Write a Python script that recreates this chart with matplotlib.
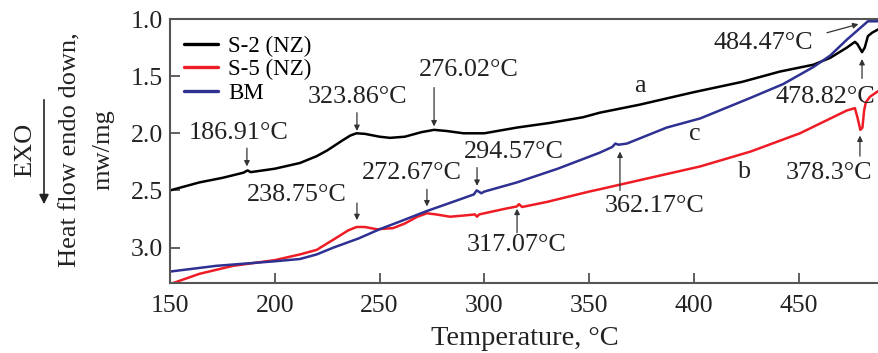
import matplotlib
matplotlib.use("Agg")
import matplotlib.pyplot as plt

# ---- data ----
s2_t = [150, 164, 175, 185, 187, 188.5, 200, 212, 220, 225, 232.5, 236, 239, 243, 250, 255, 262, 270, 276, 282,
        290, 300, 315.5, 331, 347, 355, 374, 400, 423, 441, 457, 465, 473, 476.8, 478, 480.2, 481.5, 483, 485, 488]
s2_v = [2.50, 2.43, 2.39, 2.345, 2.325, 2.34, 2.31, 2.26, 2.20, 2.15, 2.06, 2.02, 2.00, 2.005, 2.03, 2.04, 2.03, 1.99, 1.97, 1.98,
        2.00, 2.00, 1.95, 1.91, 1.86, 1.82, 1.75, 1.64, 1.55, 1.46, 1.40, 1.34, 1.25, 1.20, 1.22, 1.29, 1.25, 1.15, 1.12, 1.09]

s5_t = [150, 164, 180, 200, 212, 220, 228, 235, 239, 243, 248.7, 256.4, 262, 268, 272.6, 277, 283.6, 290, 295.5, 296.5,
        297.5, 300, 310, 315.5, 316.5, 318, 330, 350, 355, 379, 403, 427, 450.6, 473, 476.8, 478, 479.4, 480.4, 481.2, 482,
        484, 488]
s5_v = [3.32, 3.23, 3.16, 3.11, 3.06, 3.02, 2.93, 2.85, 2.82, 2.82, 2.84, 2.83, 2.79, 2.73, 2.70, 2.71, 2.73, 2.72, 2.71, 2.73,
        2.71, 2.70, 2.66, 2.64, 2.62, 2.645, 2.60, 2.51, 2.49, 2.39, 2.29, 2.16, 2.00, 1.80, 1.78, 1.86, 1.97, 1.95, 1.80, 1.73,
        1.68, 1.63]

bm_t = [150, 172, 200, 212, 220, 228, 240, 250, 260, 272.6, 285, 295, 296.3, 297.3, 298.5, 300, 315.5, 335, 355, 361,
        362.5, 364, 368, 387, 403, 427, 442.5, 457, 465, 473, 478, 483, 488]
bm_v = [3.21, 3.16, 3.12, 3.10, 3.06, 3.00, 2.92, 2.84, 2.77, 2.68, 2.60, 2.535, 2.50, 2.51, 2.525, 2.51, 2.43, 2.31, 2.17, 2.12,
        2.09, 2.10, 2.09, 1.95, 1.87, 1.69, 1.57, 1.42, 1.32, 1.18, 1.10, 1.02, 1.02]

series_names = ["S-2 (NZ)", "S-5 (NZ)", "BM"]
series_colors = ["#000000", "#ee1c25", "#2e3192"]

x_ticks = [150, 200, 250, 300, 350, 400, 450]
y_ticks = [1.0, 1.5, 2.0, 2.5, 3.0]

# annotations: (label, text_x, text_y, arrow_tail, arrow_head)
peak_labels = [
    ("186.91°C", 182.9, 2.00, (186.7, 2.13), (186.7, 2.29)),
    ("323.86°C", 239.7, 1.68, (239.2, 1.82), (239.2, 1.98)),
    ("276.02°C", 292.7, 1.45, (276.0, 1.60), (276.0, 1.94)),
    ("294.57°C", 314.0, 2.16, (296.5, 2.30), (296.5, 2.46)),
    ("272.67°C", 265.5, 2.35, (272.6, 2.49), (272.6, 2.64)),
    ("238.75°C", 210.6, 2.54, (239.2, 2.61), (239.2, 2.76)),
    ("317.07°C", 315.6, 2.98, (315.6, 2.87), (315.6, 2.66)),
    ("362.17°C", 381.4, 2.64, (364.7, 2.50), (364.7, 2.16)),
    ("484.47°C", 432.9, 1.21, (463.5, 1.12), (478.5, 1.045)),
    ("478.82°C", 462.5, 1.68, (480.2, 1.52), (480.2, 1.35)),
    ("378.3°C", 464.4, 2.35, (479.2, 2.20), (479.2, 2.02)),
]
curve_letters = [("a", 374.2, 1.59), ("b", 424.3, 2.34), ("c", 400.5, 2.01)]

# ---- plotting ----
plt.rcParams['font.family'] = ['Liberation Serif', 'DejaVu Serif']

FS = 18.8
fig = plt.figure(figsize=(8.79, 3.53), dpi=100)
ax = fig.add_axes([170/879, 1-283/353, 709/879, 264/353])

for t, v, n, c in zip([s2_t, s5_t, bm_t], [s2_v, s5_v, bm_v], series_names, series_colors):
    ax.plot(t, v, color=c, lw=1.8, label=n, solid_joinstyle='round', solid_capstyle='round')

ax.set_xlim(150, 488.3)
ax.set_ylim(3.31, 1.0)
ax.set_xticks(x_ticks)
ax.set_yticks(y_ticks)
ax.set_yticklabels([f"{v:.1f}" for v in y_ticks])
ax.tick_params(direction='in', length=7, width=1.2, labelsize=18.5, pad=5, colors='#444444', labelcolor='#222222')
ax.tick_params(axis='x', pad=9)
for side in ['left', 'bottom', 'top']:
    ax.spines[side].set_color('#555555')
    ax.spines[side].set_linewidth(1.5)
ax.spines['right'].set_visible(False)

ax.set_xlabel("Temperature, °C", fontsize=20.5, color='#222222', labelpad=6)

leg = ax.legend(loc='upper left', bbox_to_anchor=(0.0, 0.99), frameon=False, fontsize=16.5,
                handlelength=1.5, handletextpad=0.45, labelspacing=0.12, borderaxespad=0.2)
for line in leg.get_lines():
    line.set_linewidth(2.4)

for lab, tx, ty, tail, head in peak_labels:
    ax.text(tx, ty, lab, fontsize=FS, ha='center', va='center', color='#222222')
    ax.annotate('', xy=head, xytext=tail,
                arrowprops=dict(arrowstyle='-|>', color='#333333', lw=0.9, mutation_scale=8, shrinkA=0, shrinkB=0))

for lab, tx, ty in curve_letters:
    ax.text(tx, ty, lab, fontsize=FS, ha='center', va='center', color='#222222')

# y-axis label block
fig.text(25/879, 1-150/353, "EXO", rotation=90, fontsize=19, ha='center', va='center', color='#222222')
fig.add_artist(matplotlib.patches.FancyArrowPatch((44/879, 1-97/353), (44/879, 1-207/353),
               transform=fig.transFigure, arrowstyle='-|>', mutation_scale=14, lw=1.2, color='#222222'))
fig.text(70/879, 1-150/353, "Heat flow endo down,", rotation=90, fontsize=19, ha='center', va='center', color='#222222')
fig.text(103/879, 1-150/353, "mw/mg", rotation=90, fontsize=19, ha='center', va='center', color='#222222')

fig.savefig("out.png", dpi=100)
